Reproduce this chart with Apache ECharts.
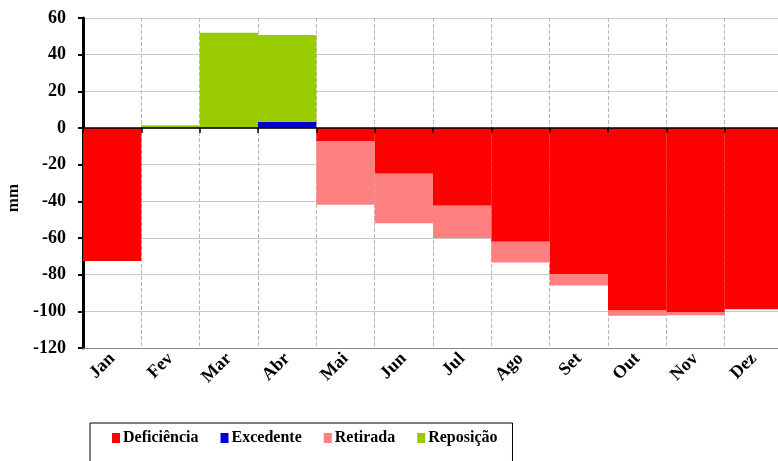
<!DOCTYPE html>
<html>
<head>
<meta charset="utf-8">
<script src="https://cdn.jsdelivr.net/npm/echarts@6/dist/echarts.min.js"></script>
<style>html,body{margin:0;padding:0;background:#fff}#c{width:778px;height:461px}</style>
</head>
<body>
<div id="c"></div>
<script>
var months = ['Jan','Fev','Mar','Abr','Mai','Jun','Jul','Ago','Set','Out','Nov','Dez'];
var deficiencia = [-72.5, 0, 0, 0, -7.3, -25, -42.4, -62, -79.8, -99.5, -100.6, -98.8];
var excedente = [0, 0, 0, 3.4, 0, 0, 0, 0, 0, 0, 0, 0];
var retirada = [0, 0, 0, 0, -34.5, -27, -17.6, -11.4, -6.1, -2.9, -1.5, 0];
var reposicao = [0, 1.5, 52, 47.3, 0, 0, 0, 0, 0, 0, 0, 0];
var yTicks = {min: -120, max: 60, interval: 20};

var font = 'Liberation Serif';
var chart = echarts.init(document.getElementById('c'));
chart.setOption({
  animation: false,
  backgroundColor: '#fff',
  grid: {left: 83, top: 18, bottom: 113, width: 700, containLabel: false, outerBoundsMode: 'none'},
  legend: {
    left: 90, top: 423,
    data: ['Deficiência','Excedente','Retirada','Reposição'],
    icon: 'rect', itemWidth: 8, itemHeight: 10, itemGap: 22,
    padding: [7, 15, 22, 22],
    borderColor: '#000', borderWidth: 1,
    textStyle: {fontFamily: font, fontWeight: 'bold', fontSize: 16, color: '#000', padding: [0,0,0,-2]}
  },
  xAxis: [{
    type: 'category', data: months, position: 'bottom',
    axisLine: {onZero: false, lineStyle: {color: '#888', width: 1}},
    axisTick: {show: false},
    splitLine: {show: true, lineStyle: {color: '#bbb', type: 'dashed', width: 1}},
    axisLabel: {rotate: 45, margin: 8, fontFamily: font, fontWeight: 'bold', fontSize: 18, color: '#000'}
  }, {
    type: 'category', data: months, position: 'bottom', z: 5,
    axisLine: {onZero: true, lineStyle: {color: '#000', width: 1.5}},
    axisTick: {show: true, length: 5, lineStyle: {color: '#000', width: 1.5}},
    axisLabel: {show: false},
    splitLine: {show: false}
  }],
  yAxis: {
    type: 'value', min: yTicks.min, max: yTicks.max, interval: yTicks.interval,
    name: 'mm', nameLocation: 'middle', nameGap: 59,
    nameTextStyle: {fontFamily: font, fontWeight: 'bold', fontSize: 17, color: '#000', padding: [0, 30, 0, 0]},
    axisLine: {show: true, lineStyle: {color: '#000', width: 3}},
    axisTick: {show: true, length: 5, lineStyle: {color: '#000', width: 2}},
    splitLine: {show: true, lineStyle: {color: '#c8c8c8', width: 1}},
    axisLabel: {margin: 17, fontFamily: font, fontWeight: 'bold', fontSize: 18, color: '#000'}
  },
  series: [
    {name: 'Deficiência', type: 'bar', stack: 'a', data: deficiencia, barCategoryGap: '0%', itemStyle: {color: '#FF0000'}},
    {name: 'Excedente', type: 'bar', stack: 'a', data: excedente, itemStyle: {color: '#0000CC'}},
    {name: 'Retirada', type: 'bar', stack: 'a', data: retirada, itemStyle: {color: '#FF8080'}},
    {name: 'Reposição', type: 'bar', stack: 'a', data: reposicao, itemStyle: {color: '#99CC00'}}
  ]
});
</script>
</body>
</html>
